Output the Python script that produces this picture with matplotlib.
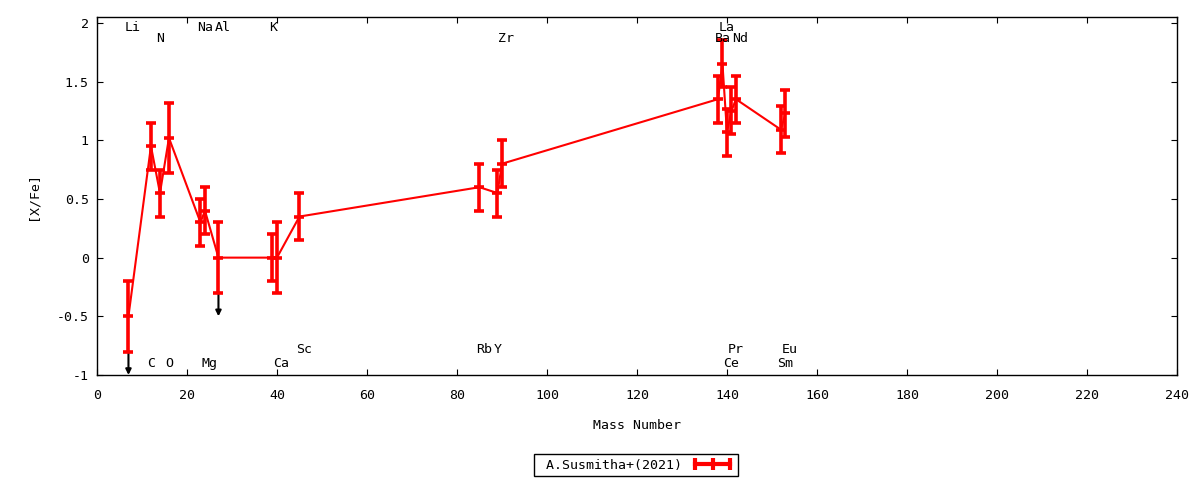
import matplotlib
matplotlib.use("Agg")
import matplotlib.pyplot as plt
from matplotlib.lines import Line2D
import numpy as np

plt.rcParams['font.family'] = ['DejaVu Sans Mono']
plt.rcParams['font.size'] = 9.5

# element data (A.Susmitha+ 2021)
elements = ['Li', 'C', 'N', 'O', 'Na', 'Mg', 'Al', 'K', 'Ca', 'Sc',
            'Rb', 'Y', 'Zr', 'Ba', 'La', 'Ce', 'Pr', 'Nd', 'Sm', 'Eu']
mass = [7, 12, 14, 16, 23, 24, 27, 39, 40, 45,
        85, 89, 90, 138, 139, 140, 141, 142, 152, 153]
xfe = [-0.5, 0.95, 0.55, 1.02, 0.30, 0.40, 0.0, 0.0, 0.0, 0.35,
       0.60, 0.55, 0.80, 1.35, 1.65, 1.07, 1.25, 1.35, 1.09, 1.23]
err = [0.3, 0.2, 0.2, 0.3, 0.2, 0.2, 0.3, 0.2, 0.3, 0.2,
       0.2, 0.2, 0.2, 0.2, 0.2, 0.2, 0.2, 0.2, 0.2, 0.2]
# upper limits drawn as downward arrows
limit_elements = ['Li', 'Al']
arrow_len = 0.2

# label rows: 0,1 above the data, 2,3 below
label_row = [0, 3, 1, 3, 0, 3, 0, 0, 3, 2,
             2, 2, 1, 1, 0, 3, 2, 1, 3, 2]
row_y = [1.96, 1.867, -0.784, -0.904]

fig = plt.figure(figsize=(12, 4.8), dpi=100)
ax = fig.add_axes([0.0808, 0.21875, 0.9, 0.7458])

ax.plot(mass, xfe, color='red', lw=1.5, zorder=2)
ax.errorbar(mass, xfe, yerr=err, fmt='none', ecolor='red', elinewidth=2.6,
            capsize=3.5, capthick=2.6, zorder=3)
ax.plot(mass, xfe, ls='none', marker='_', ms=7, mew=2.6, color='red', zorder=3)

for name in limit_elements:
    i = elements.index(name)
    y0 = xfe[i] - err[i]
    ax.annotate('', xy=(mass[i], y0 - arrow_len), xytext=(mass[i], y0),
                arrowprops=dict(arrowstyle='-|>', color='black', lw=1.5,
                                mutation_scale=8, shrinkA=0, shrinkB=0),
                zorder=1)

for name, m, r in zip(elements, mass, label_row):
    ax.annotate(name, xy=(m, row_y[r]), xytext=(-2.5, 0),
                textcoords='offset points', ha='left', va='center')

ax.set_xlim(0, 240)
ax.set_ylim(-1, 2.05)
ax.set_xticks(np.arange(0, 241, 20))
ax.set_yticks([-1, -0.5, 0, 0.5, 1, 1.5, 2])
ax.set_yticklabels(['-1', '-0.5', '0', '0.5', '1', '1.5', '2'])
ax.tick_params(direction='in', length=4.5, width=0.8, top=True, right=True)
ax.tick_params(axis='x', pad=10)
ax.tick_params(axis='y', pad=6)
for s in ax.spines.values():
    s.set_linewidth(1)

ax.set_xlabel('Mass Number', labelpad=12)
ax.set_ylabel('[X/Fe]', labelpad=12)

handle = Line2D([], [], color='red', lw=3, marker='|', ms=8, mew=3)
leg = fig.legend([handle], [' A.Susmitha+(2021)'], loc='center',
                 bbox_to_anchor=(0.53, 0.031), numpoints=3, markerfirst=False,
                 handlelength=3.2, handletextpad=0.7, fancybox=False,
                 edgecolor='black', framealpha=1, borderpad=0.35,
                 borderaxespad=0)
leg.get_frame().set_linewidth(1)

fig.savefig('out.png', dpi=100)
